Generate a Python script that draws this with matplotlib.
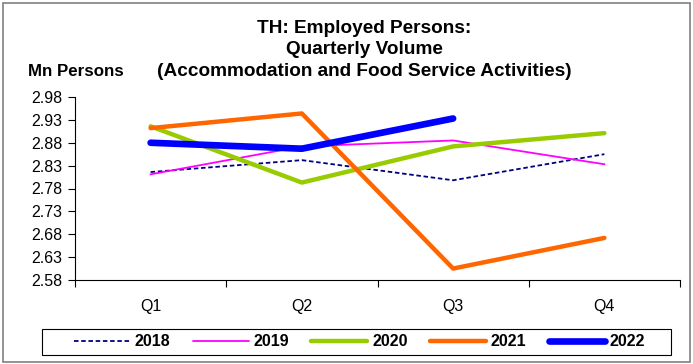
import matplotlib
matplotlib.use("Agg")
import matplotlib.pyplot as plt
from matplotlib.patches import Rectangle

plt.rcParams["font.family"] = ["Liberation Sans", "DejaVu Sans"]

quarters = ["Q1", "Q2", "Q3", "Q4"]
y2018 = [2.816, 2.842, 2.798, 2.855]
y2019 = [2.811, 2.872, 2.885, 2.833]
y2020 = [2.916, 2.793, 2.872, 2.901]
y2021 = [2.912, 2.944, 2.605, 2.672]
y2022 = [2.880, 2.867, 2.933]
yticks = [2.58, 2.63, 2.68, 2.73, 2.78, 2.83, 2.88, 2.93, 2.98]

fig = plt.figure(figsize=(6.93, 3.64), dpi=100)
ax = fig.add_axes([75 / 693, 1 - 280 / 364, 605 / 693, 183 / 364])

x = range(len(quarters))
ax.plot(x, y2018, color="#000080", lw=1.3, ls=(0, (2.5, 1.5)), label="2018")
ax.plot(x, y2019, color="#FF00FF", lw=1.3, label="2019")
ax.plot(x, y2020, color="#99CC00", lw=3.2, solid_capstyle="round", label="2020")
ax.plot(x, y2021, color="#FF6600", lw=3.2, solid_capstyle="round", label="2021")
ax.plot(range(len(y2022)), y2022, color="#0000FF", lw=4.8, solid_capstyle="round", label="2022")

ax.set_xlim(-0.5, 3.5)
ax.set_ylim(2.58, 2.98)
ax.set_yticks(yticks)
ax.set_yticklabels([f"{v:.2f}" for v in yticks], fontsize=11.5)
ax.set_xticks([-0.5, 0.5, 1.5, 2.5, 3.5])
ax.set_xticklabels([])
ax.set_xticks(list(x), minor=True)
ax.set_xticklabels(quarters, minor=True, fontsize=11.5)
ax.tick_params(axis="x", which="major", direction="out", length=5, width=0.8)
ax.tick_params(axis="x", which="minor", length=0, pad=14)
ax.tick_params(axis="y", direction="out", length=5, width=0.8, pad=4)
for side in ["top", "right"]:
    ax.spines[side].set_visible(False)

title_lines = ["TH: Employed Persons:", "Quarterly Volume",
               "(Accommodation and Food Service Activities)"]
for line, ypix in zip(title_lines, [28.5, 50, 71.5]):
    fig.text(364 / 693, 1 - ypix / 364, line, ha="center", va="center",
             fontsize=13.7, fontweight="bold")
fig.text(28 / 693, 1 - 71.5 / 364, "Mn Persons", ha="left", va="center",
         fontsize=12.2, fontweight="bold")

# legend entries without frame, box drawn separately (x 42..671, y 329..355)
leg = fig.legend(loc="center", bbox_to_anchor=(359.5 / 693, 1 - 342 / 364), ncol=5, frameon=False,
                 handlelength=3.5, handletextpad=0.3, columnspacing=1.4, borderpad=0.2,
                 prop={"weight": "bold", "size": 11.5})
for h in leg.get_lines():
    h.set_solid_capstyle("round")
fig.patches.append(Rectangle((42 / 693, 1 - 355 / 364), 629 / 693, 26 / 364,
                             transform=fig.transFigure, fill=False, edgecolor="black", lw=0.8))

fig.patches.append(Rectangle((3 / 693, 2 / 364), 687 / 693, 359 / 364, transform=fig.transFigure,
                             fill=False, edgecolor="#808080", lw=1.2))

plt.savefig("out.png", dpi=100)
plt.close()
